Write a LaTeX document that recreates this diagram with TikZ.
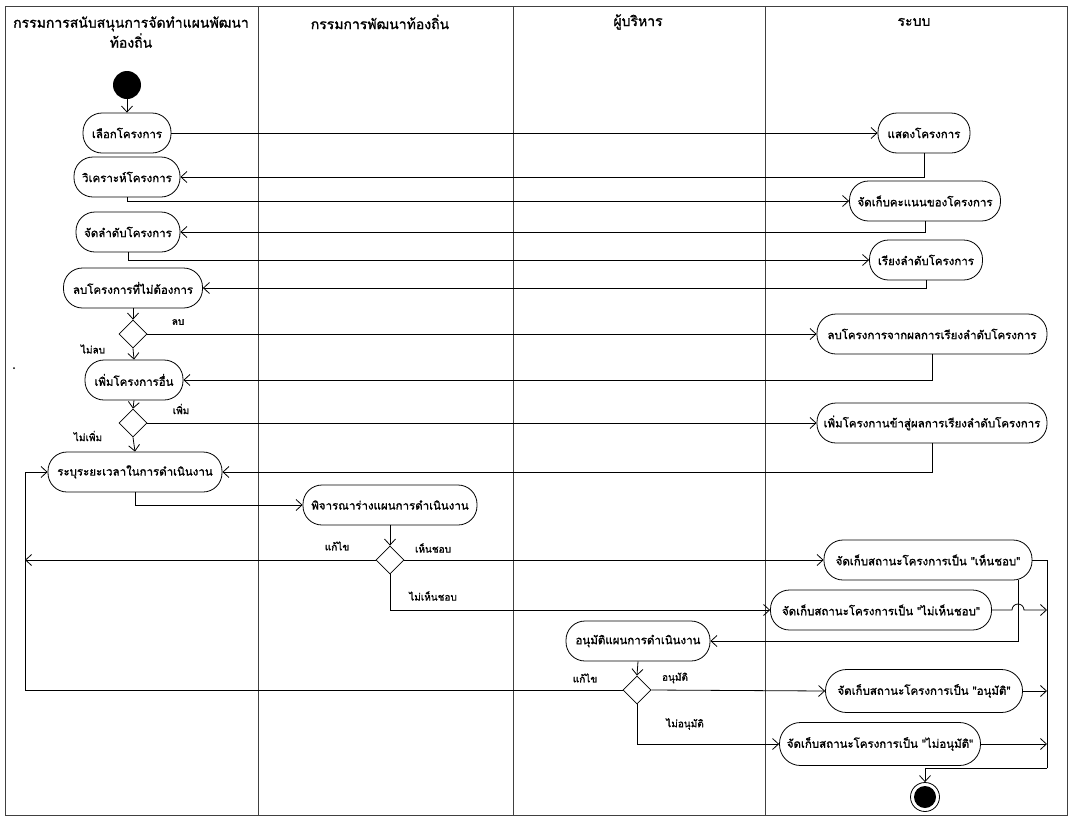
\documentclass[tikz,border=0pt]{standalone}
\usepackage{fontspec}
\newfontfamily\thaifont[Script=Thai, FakeBold=1.2]{Loma}
\usetikzlibrary{arrows.meta,shapes.geometric,calc}
\begin{document}
\begin{tikzpicture}[x=1pt,y=-1pt,
  font=\thaifont\fontsize{11.5}{13}\selectfont,
  act/.style={draw, rounded corners=19pt, minimum height=40pt, inner xsep=5pt, line width=0.8pt},
  dec/.style={draw, diamond, inner sep=0pt, minimum width=28pt, minimum height=28pt, line width=0.8pt},
  arr/.style={-{Straight Barb[length=6pt,width=11pt]}, line width=0.8pt},
  ln/.style={line width=0.8pt},
  lbl/.style={font=\thaifont\fontsize{10}{12}\selectfont, inner sep=1pt},
  hdr/.style={font=\thaifont\fontsize{14}{20}\selectfont, align=center, inner sep=0pt},
  lane/.style={draw=black!75, line width=0.8pt}]
\useasboundingbox (0,0) rectangle (1072,817);
% frame and lanes
\draw[lane] (5,6) rectangle (1067,815);
\draw[lane] (258,6) -- (258,815);
\draw[lane] (513,6) -- (513,815);
\draw[lane] (765,6) -- (765,815);
\node[hdr] (h1) at (131,32) {กรรมการสนับสนุนการจัดทำแผนพัฒนา\\ท้องถิ่น};
\node[hdr] (h2) at (380,22) {กรรมการพัฒนาท้องถิ่น};
\node[hdr] (h3) at (638,22) {ผู้บริหาร};
\node[hdr] (h4) at (914,22) {ระบบ};
\fill (14,368) circle (1pt);
% start
\node[circle, fill=black, minimum size=28pt, inner sep=0pt] (st) at (127,85) {};
% left lane
\node[act, minimum width=88pt] (n1) at (127,133) {เลือกโครงการ};
\node[act, minimum width=106pt] (n2) at (127,177) {วิเคราะห์โครงการ};
\node[act, minimum width=104pt] (n3) at (128,232) {จัดลำดับโครงการ};
\node[act, minimum width=139pt] (n4) at (133,288) {ลบโครงการที่ไม่ต้องการ};
\node[dec] (d1) at (133,334) {};
\node[act, minimum width=98pt] (n5) at (134,380) {เพิ่มโครงการอื่น};
\node[dec] (d2) at (133,423) {};
\node[act, minimum width=174pt] (n6) at (135,472) {ระบุระยะเวลาในการดำเนินงาน};
% second lane
\node[act, minimum width=174pt] (n7) at (390,505) {พิจารณาร่างแผนการดำเนินงาน};
\node[dec] (d3) at (390,560) {};
% third lane
\node[act, minimum width=144pt] (n8) at (638,641) {อนุมัติแผนการดำเนินงาน};
\node[dec] (d4) at (637,690) {};
% system lane
\node[act, minimum width=92pt] (r1) at (924,133) {แสดงโครงการ};
\node[act, minimum width=151pt] (r2) at (925,201) {จัดเก็บคะแนนของโครงการ};
\node[act, minimum width=113pt] (r3) at (926,260) {เรียงลำดับโครงการ};
\node[act, minimum width=230pt] (r4) at (932,334) {ลบโครงการจากผลการเรียงลำดับโครงการ};
\node[act, minimum width=230pt] (r5) at (932,423) {เพิ่มโครงกานข้าสู่ผลการเรียงลำดับโครงการ};
\node[act, minimum width=208pt] (r6) at (928,560) {จัดเก็บสถานะโครงการเป็น "เห็นชอบ"};
\node[act, minimum width=221pt] (r7) at (881,610) {จัดเก็บสถานะโครงการเป็น "ไม่เห็นชอบ"};
\node[act, minimum width=197pt, minimum height=43pt, rounded corners=21pt] (r8) at (924,691) {จัดเก็บสถานะโครงการเป็น "อนุมัติ"};
\node[act, minimum width=201pt, minimum height=43pt, rounded corners=21pt] (r9) at (880,744) {จัดเก็บสถานะโครงการเป็น "ไม่อนุมัติ"};
% end
\node[circle, draw, line width=0.8pt, minimum size=29pt, inner sep=0pt] (fin) at (925,797) {};
\fill (fin.center) circle (11pt);
% merge points
\coordinate (m1) at (1047,560);
\coordinate (m2) at (1047,768);
\coordinate (lt) at (25,560);
\coordinate (lb) at (25,690);
\coordinate (lu) at (25,472);
% connectors
\draw[arr] (st) -- (n1);
\draw[arr] (n1.east) -- (r1.west);
\draw[arr] (r1.south) |- (n2.east);
\draw[arr] (n2.south) |- (r2.west);
\draw[arr] (r2.south) |- (n3.east);
\draw[arr] (n3.south) |- (r3.west);
\draw[arr] (r3.south) |- (n4.east);
\draw[arr] (n4.south) -- (d1.north);
\draw[arr] (d1.east) -- (r4.west);
\draw[arr] (d1.south) -- (n5.north);
\draw[arr] (r4.south) |- (n5.east);
\draw[arr] (n5.south) -- (d2.north);
\draw[arr] (d2.east) -- (r5.west);
\draw[arr] (d2.south) -- (n6.north);
\draw[arr] (r5.south) |- (n6.east);
\draw[arr] (n6.south) |- (n7.west);
\draw[arr] (n7.south) -- (d3.north);
\draw[arr] (d3.west) -- (lt);
\draw[arr] (d3.east) -- (r6.west);
\draw[arr] (d3.south) |- (r7.west);
\draw[arr] ([xshift=-14pt]r6.south east) |- (n8.east);
\draw[arr] (r7.east) -- ([xshift=-35pt]r7.east -| m1) arc[start angle=180, end angle=0, radius=6pt] -- (r7.east -| m1);
\draw[ln] (r6.east) -- (m1) -- (m2);
\draw[arr] (m2) -| (fin.north);
\draw[arr] (n8.south) -- (d4.north);
\draw[arr] (d4.east) -- (r8.west);
\draw[arr] (d4.south) |- (r9.west);
\draw[arr] (r8.east) -- (r8.east -| m1);
\draw[arr] (r9.east) -- (r9.east -| m1);
\draw[arr] (d4.west) -- (lb) -- (lu) -- (n6.west);
% labels
\node[lbl] (l1) at (178,322) {ลบ};
\node[lbl] (l2) at (93,349) {ไม่ลบ};
\node[lbl] (l3) at (181,409) {เพิ่ม};
\node[lbl] (l4) at (88,436) {ไม่เพิ่ม};
\node[lbl] (l5) at (337,546) {แก้ไข};
\node[lbl] (l6) at (433,548) {เห็นชอบ};
\node[lbl] (l7) at (433,596) {ไม่เห็นชอบ};
\node[lbl] (l8) at (585,678) {แก้ไข};
\node[lbl] (l9) at (675,678) {อนุมัติ};
\node[lbl] (l10) at (685,724) {ไม่อนุมัติ};
\end{tikzpicture}
\end{document}
